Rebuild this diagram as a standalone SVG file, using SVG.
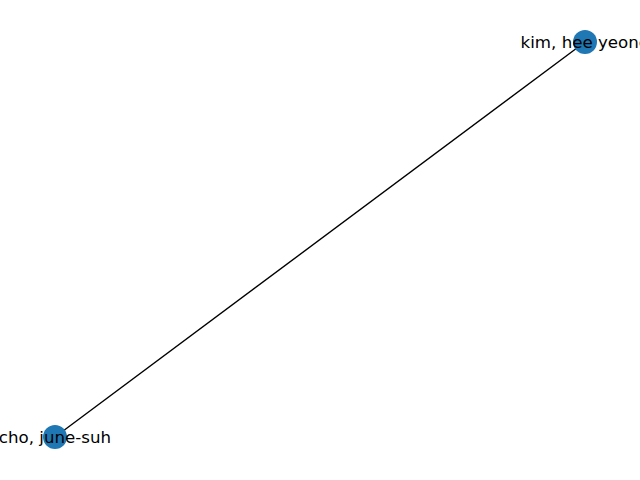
<svg xmlns="http://www.w3.org/2000/svg" width="640" height="480" viewBox="0 0 640 480">
<style>
.node circle{fill:#1f77b4;}
.node text{font-family:"DejaVu Sans",sans-serif;font-size:16.67px;fill:#000;text-anchor:middle;dominant-baseline:central;}
.edge{stroke:#000;stroke-width:1.39;fill:none;}
</style>
<rect width="640" height="480" fill="#fff"/>
<g id="edges">
<line class="edge" x1="585" y1="42" x2="55" y2="437"/>
</g>
<g id="node-kim" class="node">
<circle cx="585" cy="42" r="12"/>
<text x="585" y="42">kim, hee yeong</text>
</g>
<g id="node-cho" class="node">
<circle cx="55" cy="437" r="12"/>
<text x="55" y="437">cho, june-suh</text>
</g>
</svg>
